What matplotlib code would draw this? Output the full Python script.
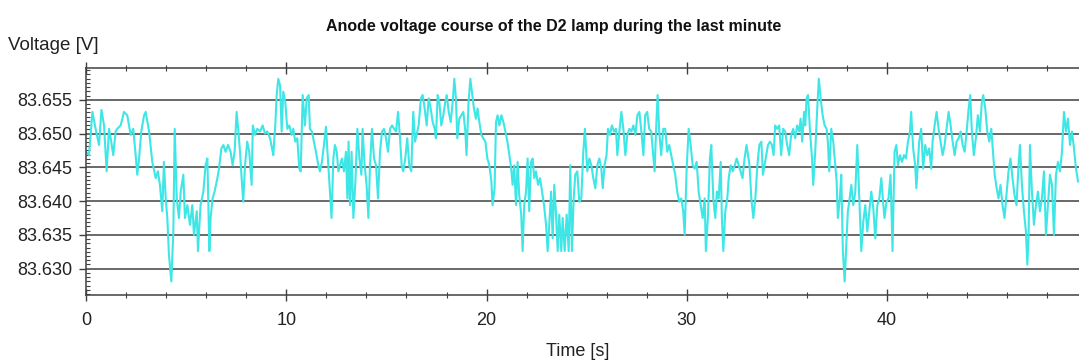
import numpy as np
import matplotlib
matplotlib.use("Agg")
import matplotlib.pyplot as plt
from matplotlib.ticker import MultipleLocator, FormatStrFormatter

# Anode voltage samples of the D2 lamp over the last minute
time_s = [
    0.00, 0.15, 0.32, 0.48, 0.65, 0.77, 0.90, 1.03, 1.15, 1.26, 1.36, 1.48, 1.56, 1.73, 1.90, 2.06,
    2.23, 2.36, 2.48, 2.56, 2.65, 2.76, 2.90, 2.98, 3.15, 3.31, 3.48, 3.59, 3.69, 3.81, 3.89, 3.98,
    4.06, 4.14, 4.26, 4.36, 4.43, 4.53, 4.64, 4.73, 4.86, 4.94, 5.06, 5.19, 5.31, 5.39, 5.53, 5.59,
    5.72, 5.86, 5.97, 6.06, 6.16, 6.22, 6.32, 6.42, 6.56, 6.64, 6.76, 6.86, 6.97, 7.09, 7.22, 7.32,
    7.42, 7.52, 7.61, 7.69, 7.77, 7.85, 7.94, 8.05, 8.15, 8.27, 8.33,
    8.44, 8.55, 8.69, 8.82, 8.94, 9.05, 9.19, 9.29, 9.35, 9.45, 9.52, 9.60, 9.69, 9.77, 9.85, 9.95,
    10.05, 10.15, 10.27, 10.35, 10.45, 10.55, 10.65, 10.72, 10.82, 10.93, 11.02, 11.12, 11.18, 11.28,
    11.38, 11.48, 11.60, 11.68, 11.78, 11.88, 11.98, 12.08, 12.18, 12.26, 12.35, 12.43, 12.52, 12.60,
    12.68, 12.78, 12.88, 12.98, 13.05, 13.11, 13.18, 13.26, 13.35, 13.45, 13.55, 13.65, 13.75, 13.81,
    13.91, 14.01, 14.10, 14.18, 14.28, 14.38, 14.48, 14.58, 14.68, 14.78, 14.88, 14.98, 15.08, 15.18,
    15.28, 15.38, 15.48, 15.58, 15.68, 15.76, 15.84, 15.94, 16.04, 16.14, 16.24, 16.34, 16.43,
    16.61, 16.72, 16.81, 16.91, 17.01, 17.11, 17.21, 17.31, 17.41, 17.47, 17.56, 17.64, 17.74, 17.84,
    17.94, 18.01, 18.11, 18.21, 18.31, 18.39, 18.47, 18.54, 18.64, 18.74, 18.84, 18.94, 19.00, 19.10,
    19.19, 19.27, 19.37, 19.47, 19.55, 19.64, 19.74, 19.84, 19.94, 20.04, 20.14, 20.24, 20.30, 20.40,
    20.47, 20.55, 20.64, 20.74, 20.84, 20.94, 21.04, 21.14, 21.23, 21.30, 21.38, 21.47, 21.55, 21.63,
    21.73, 21.80, 21.88, 21.97, 22.05, 22.13, 22.22, 22.30, 22.38, 22.47, 22.57, 22.67, 22.77, 22.87,
    22.97, 23.05, 23.13, 23.22, 23.30, 23.38, 23.46, 23.55, 23.63, 23.73, 23.80, 23.90, 24.00, 24.10,
    24.18, 24.26, 24.35, 24.43, 24.53, 24.63, 24.73, 24.83, 24.91,
    25.03, 25.13, 25.23, 25.33, 25.43, 25.53, 25.63, 25.73, 25.80, 25.89, 25.99, 26.06, 26.16, 26.26,
    26.36, 26.46, 26.53, 26.63, 26.73, 26.83, 26.93, 27.03, 27.13, 27.23, 27.33, 27.43, 27.53, 27.63,
    27.73, 27.83, 27.92, 28.02, 28.12, 28.22, 28.32, 28.39, 28.46, 28.54, 28.62, 28.72, 28.82, 28.92,
    29.02, 29.12, 29.22, 29.32, 29.42, 29.52, 29.62, 29.72, 29.82, 29.89, 29.99, 30.09, 30.19, 30.29,
    30.39, 30.49, 30.59, 30.69, 30.79, 30.89, 30.95, 31.05, 31.15, 31.22, 31.32, 31.42, 31.50, 31.59,
    31.69, 31.75, 31.82, 31.92, 32.02, 32.09, 32.19, 32.29, 32.39, 32.49, 32.59, 32.68, 32.78, 32.88,
    32.98,
    33.13, 33.22, 33.32, 33.42, 33.52, 33.62, 33.72, 33.80, 33.88, 33.97, 34.05, 34.15, 34.25, 34.33,
    34.41, 34.51, 34.61, 34.71, 34.81, 34.91, 35.01, 35.11, 35.21, 35.31, 35.41, 35.51, 35.61, 35.68,
    35.76, 35.85, 35.91, 35.98, 36.05, 36.15, 36.25, 36.31, 36.41, 36.51, 36.59, 36.68, 36.78, 36.88,
    36.98, 37.04, 37.11, 37.21, 37.31, 37.41, 37.48, 37.54, 37.64, 37.71, 37.79, 37.88, 37.96, 38.04,
    38.13, 38.21, 38.31, 38.41, 38.51, 38.61, 38.71, 38.81, 38.91, 39.01, 39.11, 39.21, 39.31, 39.41,
    39.51, 39.61, 39.71, 39.81, 39.87, 39.97, 40.07, 40.17, 40.27, 40.37, 40.46, 40.54, 40.64, 40.74,
    40.84, 40.94, 41.04, 41.14, 41.20, 41.30, 41.40, 41.46,
    41.60, 41.70, 41.80, 41.90, 42.00, 42.10, 42.20, 42.27, 42.37, 42.47, 42.57, 42.67, 42.77, 42.87,
    42.97, 43.07, 43.17, 43.27, 43.37, 43.47, 43.57, 43.67, 43.77, 43.87, 43.97, 44.07, 44.15, 44.23,
    44.33, 44.43, 44.53, 44.63, 44.73, 44.80, 44.90, 45.00, 45.10, 45.20, 45.30, 45.37, 45.47, 45.56,
    45.66, 45.76, 45.86, 45.96, 46.06, 46.16, 46.26, 46.36, 46.46, 46.56, 46.63, 46.73, 46.83, 46.93,
    47.00, 47.06, 47.13, 47.23, 47.33, 47.43, 47.53, 47.63, 47.73, 47.83, 47.93, 48.03, 48.13, 48.23,
    48.33, 48.43, 48.53, 48.63, 48.73, 48.83, 48.93, 49.03, 49.13, 49.23, 49.33, 49.43, 49.53,
]

voltage_v = [
    83.6473, 83.6468, 83.6532, 83.6507, 83.6483, 83.6535, 83.6512, 83.6444, 83.6507, 83.6488, 83.6468, 83.6503, 83.6507, 83.6512, 83.6532, 83.6527,
    83.6498, 83.6507, 83.6468, 83.6439, 83.6463, 83.6503, 83.6527, 83.6532, 83.6503, 83.6458, 83.6434, 83.6444, 83.6424, 83.6385, 83.6458, 83.6404,
    83.6375, 83.6321, 83.6281, 83.6355, 83.6507, 83.6404, 83.6375, 83.6414, 83.6439, 83.6375, 83.6394, 83.6365, 83.6394, 83.6350, 83.6385, 83.6326,
    83.6394, 83.6414, 83.6453, 83.6463, 83.6326, 83.6375, 83.6404, 83.6414, 83.6434, 83.6448, 83.6478, 83.6483, 83.6473, 83.6483, 83.6473, 83.6453,
    83.6473, 83.6532, 83.6503, 83.6473, 83.6434, 83.6399, 83.6453, 83.6488, 83.6473, 83.6424, 83.6512,
    83.6498, 83.6507, 83.6503, 83.6512, 83.6500, 83.6503, 83.6493, 83.6478, 83.6468, 83.6512, 83.6557, 83.6581, 83.6571, 83.6503, 83.6562, 83.6547,
    83.6507, 83.6512, 83.6498, 83.6507, 83.6488, 83.6493, 83.6448, 83.6444, 83.6557, 83.6512, 83.6552, 83.6557, 83.6507, 83.6503,
    83.6488, 83.6473, 83.6453, 83.6444, 83.6458, 83.6483, 83.6510, 83.6463, 83.6414, 83.6375, 83.6463, 83.6483, 83.6473, 83.6444,
    83.6453, 83.6463, 83.6444, 83.6473, 83.6404, 83.6488, 83.6394, 83.6473, 83.6375, 83.6429, 83.6507, 83.6463, 83.6439, 83.6507,
    83.6453, 83.6424, 83.6375, 83.6453, 83.6507, 83.6463, 83.6453, 83.6404, 83.6473, 83.6503, 83.6507, 83.6493, 83.6473, 83.6507,
    83.6512, 83.6507, 83.6503, 83.6532, 83.6493, 83.6453, 83.6444, 83.6463, 83.6493, 83.6453, 83.6444, 83.6532, 83.6488,
    83.6512, 83.6552, 83.6557, 83.6537, 83.6512, 83.6552, 83.6537, 83.6517, 83.6507, 83.6493, 83.6557, 83.6547, 83.6512, 83.6527,
    83.6547, 83.6557, 83.6532, 83.6517, 83.6547, 83.6581, 83.6552, 83.6493, 83.6522, 83.6527, 83.6532, 83.6503, 83.6468, 83.6547,
    83.6581, 83.6562, 83.6537, 83.6522, 83.6537, 83.6517, 83.6498, 83.6493, 83.6488, 83.6463, 83.6453, 83.6429, 83.6394, 83.6419,
    83.6517, 83.6527, 83.6512, 83.6527, 83.6517, 83.6503, 83.6488, 83.6468, 83.6448, 83.6424, 83.6453, 83.6394, 83.6458, 83.6409,
    83.6380, 83.6326, 83.6394, 83.6414, 83.6463, 83.6385, 83.6458, 83.6463, 83.6434, 83.6444, 83.6424, 83.6434, 83.6414, 83.6394,
    83.6365, 83.6326, 83.6365, 83.6414, 83.6345, 83.6424, 83.6385, 83.6326, 83.6380, 83.6326, 83.6375, 83.6326, 83.6380, 83.6326,
    83.6453, 83.6326, 83.6404, 83.6439, 83.6444, 83.6399, 83.6404, 83.6473, 83.6507,
    83.6444, 83.6463, 83.6453, 83.6434, 83.6419, 83.6453, 83.6463, 83.6448, 83.6419, 83.6453, 83.6468, 83.6507, 83.6498, 83.6512,
    83.6503, 83.6507, 83.6468, 83.6503, 83.6532, 83.6507, 83.6468, 83.6498, 83.6507, 83.6503, 83.6512, 83.6498, 83.6527, 83.6532,
    83.6503, 83.6468, 83.6527, 83.6532, 83.6507, 83.6503, 83.6468, 83.6444, 83.6503, 83.6557, 83.6503, 83.6468, 83.6507, 83.6507,
    83.6473, 83.6483, 83.6468, 83.6453, 83.6439, 83.6414, 83.6399, 83.6404, 83.6385, 83.6350, 83.6448, 83.6507, 83.6483, 83.6453,
    83.6448, 83.6458, 83.6414, 83.6394, 83.6375, 83.6404, 83.6326, 83.6375, 83.6463, 83.6483, 83.6404, 83.6375, 83.6414, 83.6404,
    83.6458, 83.6375, 83.6326, 83.6385, 83.6404, 83.6434, 83.6453, 83.6444, 83.6453, 83.6463, 83.6453, 83.6444, 83.6434, 83.6463,
    83.6483,
    83.6453, 83.6404, 83.6375, 83.6404, 83.6453, 83.6483, 83.6488, 83.6439, 83.6453, 83.6468, 83.6483, 83.6488, 83.6483, 83.6468,
    83.6512, 83.6507, 83.6512, 83.6468, 83.6507, 83.6503, 83.6483, 83.6468, 83.6498, 83.6507, 83.6493, 83.6512, 83.6503, 83.6522,
    83.6488, 83.6532, 83.6512, 83.6552, 83.6557, 83.6503, 83.6463, 83.6424, 83.6473, 83.6537, 83.6581, 83.6552, 83.6527, 83.6512,
    83.6507, 83.6488, 83.6444, 83.6507, 83.6488, 83.6453, 83.6429, 83.6375, 83.6404, 83.6439, 83.6326, 83.6281, 83.6335, 83.6385,
    83.6404, 83.6424, 83.6394, 83.6414, 83.6483, 83.6404, 83.6326, 83.6370, 83.6394, 83.6355, 83.6385, 83.6414, 83.6389, 83.6345,
    83.6394, 83.6404, 83.6434, 83.6394, 83.6375, 83.6399, 83.6404, 83.6439, 83.6326, 83.6473, 83.6483, 83.6453, 83.6468, 83.6458,
    83.6468, 83.6463, 83.6488, 83.6503, 83.6532, 83.6478, 83.6453, 83.6419,
    83.6488, 83.6507, 83.6448, 83.6483, 83.6468, 83.6478, 83.6448, 83.6488, 83.6512, 83.6532, 83.6507, 83.6488, 83.6468, 83.6483,
    83.6507, 83.6532, 83.6512, 83.6488, 83.6468, 83.6488, 83.6493, 83.6503, 83.6483, 83.6473, 83.6503, 83.6537, 83.6557, 83.6503,
    83.6468, 83.6493, 83.6527, 83.6503, 83.6547, 83.6557, 83.6537, 83.6503, 83.6488, 83.6507, 83.6468, 83.6439, 83.6419, 83.6404,
    83.6424, 83.6394, 83.6375, 83.6409, 83.6444, 83.6463, 83.6434, 83.6409, 83.6394, 83.6453, 83.6483, 83.6424, 83.6385, 83.6355,
    83.6306, 83.6345, 83.6483, 83.6414, 83.6365, 83.6394, 83.6414, 83.6385, 83.6404, 83.6444, 83.6350, 83.6394, 83.6439, 83.6424,
    83.6350, 83.6439, 83.6458, 83.6444, 83.6473, 83.6532, 83.6503, 83.6522, 83.6483, 83.6503, 83.6478, 83.6448, 83.6429,
]

y_ticks = [83.630, 83.635, 83.640, 83.645, 83.650, 83.655]
x_ticks = [0, 10, 20, 30, 40]

plt.rcParams["font.family"] = ["Liberation Sans", "DejaVu Sans"]

fig = plt.figure(figsize=(10.79, 3.63), dpi=100)
ax = fig.add_axes([86 / 1079, 1 - 295 / 363, 993 / 1079, 227 / 363])

ax.plot(time_s, voltage_v, color="#3ee6e6", linewidth=1.5)

ax.set_xlim(0, 49.58)
ax.set_ylim(83.6261, 83.6597)

ax.set_yticks(y_ticks)
ax.yaxis.set_major_formatter(FormatStrFormatter("%.3f"))
ax.yaxis.set_minor_locator(MultipleLocator(0.000625))
ax.set_xticks(x_ticks)
ax.xaxis.set_minor_locator(MultipleLocator(2))

ax.grid(axis="y", which="major", color="#404040", linewidth=1.1)
ax.set_axisbelow(True)

for side in ("left", "bottom", "top"):
    ax.spines[side].set_color("#404040")
    ax.spines[side].set_linewidth(1.1)
ax.spines["right"].set_visible(False)

ax.tick_params(axis="y", which="major", direction="out", length=5, width=1,
               color="#404040", labelsize=13, pad=5, labelcolor="#222222")
ax.tick_params(axis="y", which="minor", direction="in", length=3, width=0.8, color="#404040")
ax.tick_params(axis="x", which="both", direction="inout", top=True, color="#404040",
               labelsize=13, pad=8, labelcolor="#222222")
ax.tick_params(axis="x", which="major", length=8, width=1)
ax.tick_params(axis="x", which="minor", length=5, width=0.8)

fig.text(554 / 1079, 1 - 26 / 363, "Anode voltage course of the D2 lamp during the last minute",
         ha="center", va="center", fontsize=11.5, fontweight="bold", color="#111111")
fig.text(8 / 1079, 1 - 45 / 363, "Voltage [V]", ha="left", va="center",
         fontsize=13.5, color="#222222")
fig.text(578 / 1079, 1 - 352 / 363, "Time [s]", ha="center", va="center",
         fontsize=13, color="#222222")

fig.savefig("out.png", dpi=100)
